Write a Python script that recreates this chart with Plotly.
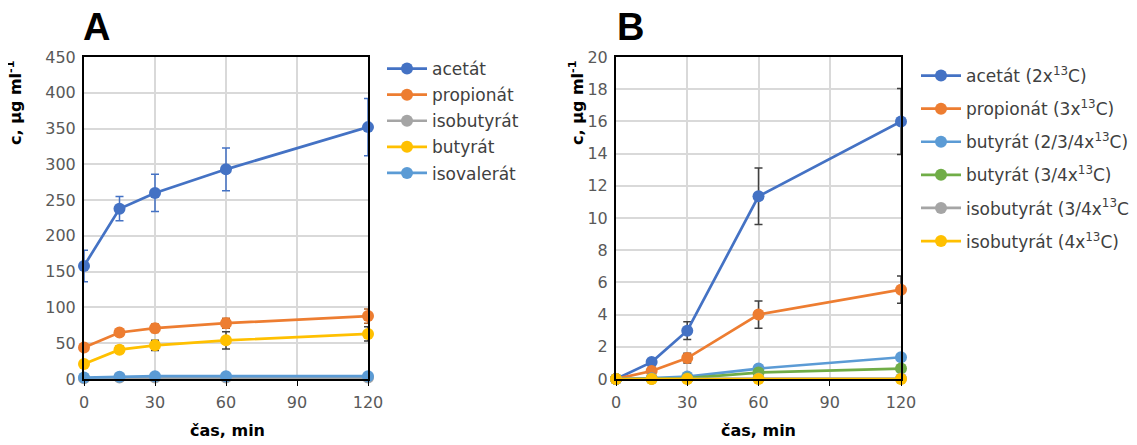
import plotly.graph_objects as go

# ---------------- data ----------------
time = [0, 15, 30, 60, 120]
x_ticks = [0, 30, 60, 90, 120]

# Panel A (µg/ml)
a_names = ["acetát", "propionát", "isobutyrát", "butyrát", "isovalerát"]
a_acetat = [158, 238, 260, 293, 352]
a_acetat_err = [22, 17, 26, 30, 40]
a_propionat = [44, 65, 71, 78, 88]
a_propionat_err = [3, 3, 6, 7, 10]
a_isobutyrat = [1, 2, 2, 2, 2]
a_isobutyrat_err = [0.5, 0.5, 0.5, 0.5, 0.5]
a_butyrat = [21, 41, 47, 54, 63]
a_butyrat_err = [3, 5, 7, 12, 10]
a_isovalerat = [2, 3, 4, 4, 4]
a_isovalerat_err = [0.5, 0.5, 0.5, 0.5, 0.5]

# Panel B (µg/ml)
b_names = ["acetát (2x<sup>13</sup>C)", "propionát (3x<sup>13</sup>C)",
           "butyrát (2/3/4x<sup>13</sup>C)", "butyrát (3/4x<sup>13</sup>C)",
           "isobutyrát (3/4x<sup>13</sup>C)", "isobutyrát (4x<sup>13</sup>C)"]
b_acetat = [0, 1.05, 3.0, 11.35, 16.0]
b_acetat_err = [0, 0.1, 0.55, 1.75, 2.05]
b_propionat = [0, 0.5, 1.3, 4.0, 5.55]
b_propionat_err = [0, 0.05, 0.3, 0.85, 0.85]
b_butyrat234 = [0, 0.05, 0.15, 0.65, 1.35]
b_butyrat34 = [0, 0.02, 0.05, 0.4, 0.65]
b_isobutyrat34 = [0, 0.01, 0.02, 0.03, 0.03]
b_isobutyrat4 = [0, 0, 0, 0, 0]

# ---------------- styles ----------------
BLUE = "#4472C4"
ORANGE = "#ED7D31"
GREY = "#A5A5A5"
YELLOW = "#FFC000"
LBLUE = "#5B9BD5"
GREEN = "#70AD47"
ERR = "#404040"
FONT = "DejaVu Sans"
TICKC = "#595959"

fig = go.Figure()


def add(x, y, name, color, xa, ya, legend, err=None, errcolor=ERR):
    kw = {}
    if err is not None:
        kw["error_y"] = dict(type="data", array=err, visible=True,
                             color=errcolor, thickness=1.5, width=4)
    fig.add_trace(go.Scatter(
        x=x, y=y, name=name, mode="lines+markers",
        line=dict(color=color, width=2.7),
        marker=dict(color=color, size=12),
        xaxis=xa, yaxis=ya, legend=legend, legendgroup=name,
        cliponaxis=False, **kw))


# Panel A
add(time, a_acetat, a_names[0], BLUE, "x", "y", "legend", a_acetat_err, BLUE)
add(time, a_propionat, a_names[1], ORANGE, "x", "y", "legend", a_propionat_err, "#B5652A")
add(time, a_isobutyrat, a_names[2], GREY, "x", "y", "legend", a_isobutyrat_err)
add(time, a_butyrat, a_names[3], YELLOW, "x", "y", "legend", a_butyrat_err)
add(time, a_isovalerat, a_names[4], LBLUE, "x", "y", "legend", a_isovalerat_err)

# Panel B
add(time, b_acetat, b_names[0], BLUE, "x2", "y2", "legend2", b_acetat_err)
add(time, b_propionat, b_names[1], ORANGE, "x2", "y2", "legend2", b_propionat_err)
add(time, b_butyrat234, b_names[2], LBLUE, "x2", "y2", "legend2")
add(time, b_butyrat34, b_names[3], GREEN, "x2", "y2", "legend2")
add(time, b_isobutyrat34, b_names[4], GREY, "x2", "y2", "legend2")
add(time, b_isobutyrat4, b_names[5], YELLOW, "x2", "y2", "legend2")

W, H = 1137, 445
OFF = 8  # page body margin in the browser


def px(v):
    return (v - OFF) / W


def py(v):
    return 1 - (v - OFF) / H


ydom = [py(379), py(57)]

axis_common = dict(
    showline=True, linecolor="black", linewidth=2, mirror=True,
    showgrid=True, gridcolor="#D9D9D9", gridwidth=1.5,
    zeroline=False, automargin=False, ticklabelstandoff=3,
    tickfont=dict(family=FONT, size=16, color=TICKC),
)

fig.update_layout(
    width=W, height=H,
    margin=dict(l=0, r=0, t=0, b=0),
    paper_bgcolor="white", plot_bgcolor="white",
    font=dict(family=FONT, color="#404040"),
    xaxis=dict(domain=[px(84), px(368)], range=[0, 120], tickvals=x_ticks,
               ticks="outside", ticklen=5, tickcolor="black", anchor="y",
               **axis_common),
    yaxis=dict(domain=ydom, range=[0, 450], dtick=50, anchor="x",
               ticks="", **axis_common),
    xaxis2=dict(domain=[px(616), px(901)], range=[0, 120], tickvals=x_ticks,
                ticks="outside", ticklen=5, tickcolor="black", anchor="y2",
                **axis_common),
    yaxis2=dict(domain=ydom, range=[0, 20], dtick=2, anchor="x2",
                ticks="", **axis_common),
    legend=dict(x=px(382), y=py(51), xanchor="left", yanchor="top",
                font=dict(family=FONT, size=17, color="#404040"),
                tracegroupgap=1, itemwidth=40, bgcolor="rgba(0,0,0,0)"),
    legend2=dict(x=px(916), y=py(58), xanchor="left", yanchor="top",
                 font=dict(family=FONT, size=17, color="#404040"),
                 tracegroupgap=8, itemwidth=40, bgcolor="rgba(0,0,0,0)"),
    showlegend=True,
)

ann_title = dict(family="Liberation Sans", size=38, color="black")
ann_axis = dict(family=FONT, size=16, color="black")
anc = dict(xref="paper", yref="paper", showarrow=False,
           xanchor="center", yanchor="middle")
fig.add_annotation(text="<b>A</b>", x=px(97), y=py(27), font=ann_title, **anc)
fig.add_annotation(text="<b>B</b>", x=px(630), y=py(27), font=ann_title, **anc)
for xc in (15, 577):
    fig.add_annotation(text="<b>c, µg ml<sup>-1</sup></b>", x=px(xc), y=py(103),
                       textangle=-90, font=ann_axis, **anc)
for xc in (227, 758):
    fig.add_annotation(text="<b>čas, min</b>", x=px(xc), y=py(430),
                       font=ann_axis, **anc)

fig.write_html("out.html")
